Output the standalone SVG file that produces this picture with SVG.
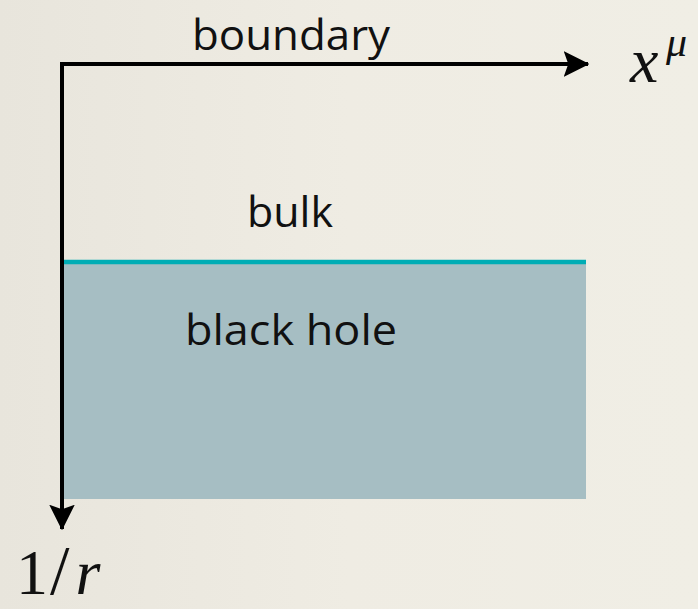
<svg xmlns="http://www.w3.org/2000/svg" width="698" height="609" viewBox="0 0 698 609">
<style>
.lbl{font-family:"Open Sans","DejaVu Sans",sans-serif;font-size:42px;fill:#111}
.math{font-family:"Liberation Serif","DejaVu Serif",serif;fill:#111}
.axis{stroke:#000;stroke-width:4;fill:none}
</style>
<defs>
<linearGradient id="bg" x1="0" y1="0" x2="1" y2="0">
<stop offset="0" stop-color="#e8e5dc"/>
<stop offset="0.5" stop-color="#efece3"/>
<stop offset="1" stop-color="#f0eee5"/>
</linearGradient>
<marker id="ah" viewBox="0 0 10 10" refX="9.5" refY="5" markerWidth="6.4" markerHeight="6.4" markerUnits="strokeWidth" orient="auto">
<path d="M0,0 L10,5 L0,10 L1.8,5 Z" fill="#000"/>
</marker>
</defs>
<rect width="698" height="609" fill="url(#bg)"/>
<g id="blackhole">
<rect x="64" y="262" width="522" height="237" fill="#a6bec3"/>
<line x1="64" y1="262" x2="586" y2="262" stroke="#00adb5" stroke-width="4.5"/>
<text class="lbl" x="185" y="345" textLength="212" lengthAdjust="spacingAndGlyphs">black hole</text>
</g>
<g id="bulk">
<text class="lbl" x="247" y="227" textLength="86" lengthAdjust="spacingAndGlyphs">bulk</text>
</g>
<g id="boundary">
<text class="lbl" x="192" y="50" textLength="198" lengthAdjust="spacingAndGlyphs">boundary</text>
</g>
<g id="connectors">
<path class="axis" d="M62,64 L588,64" marker-end="url(#ah)"/>
<path class="axis" d="M62,62 L62,529" marker-end="url(#ah)"/>
</g>
<g id="xmu">
<text class="math" x="630" y="82" font-size="64" font-style="italic">x</text>
<text class="math" x="666" y="56" font-size="42" font-style="italic">μ</text>
</g>
<g id="oneoverr">
<text class="math" x="16" y="594" font-size="64">1<tspan dx="2" font-size="70">/</tspan><tspan dx="6" font-style="italic">r</tspan></text>
</g>
</svg>
